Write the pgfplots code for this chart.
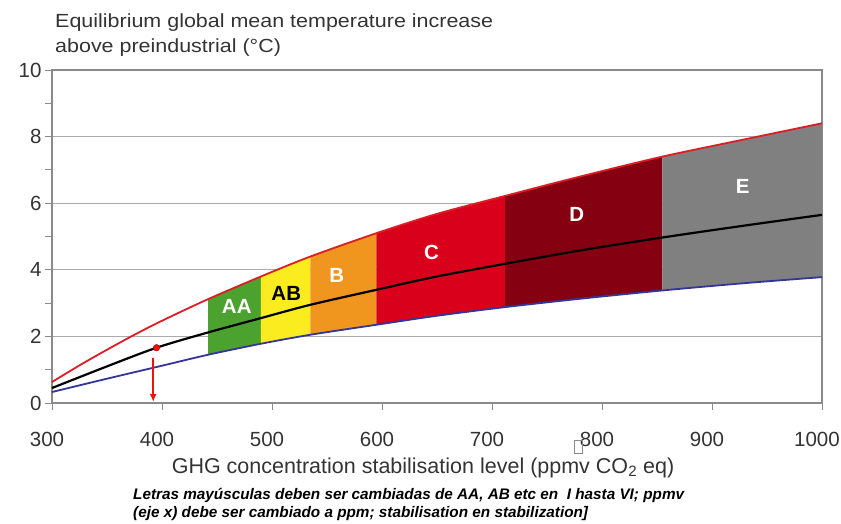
\documentclass[border=0pt]{standalone}
\usepackage{fontspec}
\setmainfont{Liberation Sans}
\usepackage{pgfplots}
\pgfplotsset{compat=1.18}
\usepgfplotslibrary{fillbetween}
\usetikzlibrary{arrows.meta}

\definecolor{axisgray}{HTML}{8A8A8A}
\definecolor{gridgray}{HTML}{ABABAB}
\definecolor{labelgray}{HTML}{333333}
\definecolor{upred}{HTML}{DC1E24}
\definecolor{lowblue}{HTML}{33359A}
\definecolor{arrowred}{HTML}{F01010}
\definecolor{bandAA}{HTML}{4CA22E}
\definecolor{bandAB}{HTML}{FAEC1E}
\definecolor{bandB}{HTML}{F0951E}
\definecolor{bandC}{HTML}{D8001A}
\definecolor{bandD}{HTML}{850010}
\definecolor{bandE}{HTML}{808080}

\begin{document}
\begin{tikzpicture}
\begin{axis}[
    at={(0,0)}, anchor=south west,
    scale only axis, width=770pt, height=333pt,
    xmin=300, xmax=1000, ymin=0, ymax=10,
    xtick={300,400,...,1000},
    ytick={0,2,...,10},
    minor ytick={1,3,...,9},
    xtick pos=bottom, ytick pos=left,
    tick align=outside,
    major tick length=7pt, minor tick length=7pt,
    ymajorgrids,
    grid style={gridgray, line width=1pt},
    axis line style={axisgray, line width=1.2pt},
    tick style={axisgray, line width=1pt},
    ticklabel style={font=\fontsize{20.5}{22}\selectfont, text=labelgray},
    xticklabel style={yshift=-19pt, xshift=-5pt, inner xsep=0pt},
    /pgf/number format/assume math mode=true,
    /pgf/number format/1000 sep={},
    clip=false,
]

% curves (paths for the bands)
\addplot[name path=up, draw=none, smooth] coordinates {
    (300,0.63) (325,1.13) (350,1.60) (375,2.05) (400,2.47) (442,3.12) (490,3.80) (535,4.40)
    (595,5.10) (650,5.68) (712,6.22) (780,6.80) (855,7.40) (930,7.92) (1000,8.40)
};
\addplot[name path=lo, draw=none, smooth] coordinates {
    (300,0.33) (350,0.73) (400,1.12) (442,1.45) (490,1.78) (535,2.05)
    (595,2.35) (650,2.62) (712,2.88) (780,3.13) (855,3.38) (930,3.60) (1000,3.78)
};

\addplot[bandAA] fill between[of=up and lo, soft clip={domain=442:490}];
\addplot[bandAB] fill between[of=up and lo, soft clip={domain=490:535}];
\addplot[bandB]  fill between[of=up and lo, soft clip={domain=535:595}];
\addplot[bandC]  fill between[of=up and lo, soft clip={domain=595:712}];
\addplot[bandD]  fill between[of=up and lo, soft clip={domain=712:855}];
\addplot[bandE]  fill between[of=up and lo, soft clip={domain=855:1000}];

% upper bound
\addplot[upred, line width=1.8pt, smooth] coordinates {
    (300,0.63) (325,1.13) (350,1.60) (375,2.05) (400,2.47) (442,3.12) (490,3.80) (535,4.40)
    (595,5.10) (650,5.68) (712,6.22) (780,6.80) (855,7.40) (930,7.92) (1000,8.40)
};
% lower bound
\addplot[lowblue, line width=1.8pt, smooth] coordinates {
    (300,0.33) (350,0.73) (400,1.12) (442,1.45) (490,1.78) (535,2.05)
    (595,2.35) (650,2.62) (712,2.88) (780,3.13) (855,3.38) (930,3.60) (1000,3.78)
};
% best estimate
\addplot[black, line width=2.2pt, smooth] coordinates {
    (300,0.45) (350,1.10) (395,1.66) (442,2.12) (490,2.55) (535,2.95)
    (595,3.40) (650,3.80) (712,4.18) (780,4.58) (855,4.97) (930,5.33) (1000,5.65)
};

% current level marker
\addplot[arrowred, only marks, mark=*, mark size=3.3pt, mark options={draw=black!30!red, fill=arrowred}] coordinates {(395,1.66)};
\addplot[arrowred, line width=1.6pt, -{Latex[length=8pt, width=7pt]}] coordinates {(392,1.36) (392,0.03)};

% band labels
\node[font=\fontsize{20.5}{22}\selectfont\bfseries, text=white] at (axis cs:468,2.9) {AA};
\node[font=\fontsize{20.5}{22}\selectfont\bfseries, text=black] at (axis cs:513,3.3) {AB};
\node[font=\fontsize{20.5}{22}\selectfont\bfseries, text=white] at (axis cs:559,3.84) {B};
\node[font=\fontsize{20.5}{22}\selectfont\bfseries, text=white] at (axis cs:645,4.53) {C};
\node[font=\fontsize{20.5}{22}\selectfont\bfseries, text=white] at (axis cs:777,5.65) {D};
\node[font=\fontsize{20.5}{22}\selectfont\bfseries, text=white] at (axis cs:928,6.49) {E};
\end{axis}

% title
\node[anchor=base west, inner sep=0pt, text=labelgray, font=\fontsize{19}{22}\selectfont]
    at (3pt,375pt) {\scalebox{1.13}[1]{Equilibrium global mean temperature increase}};
\node[anchor=base west, inner sep=0pt, text=labelgray, font=\fontsize{19}{22}\selectfont]
    at (3pt,350pt) {\scalebox{1.13}[1]{above preindustrial (°C)}};

% x label
\node[anchor=base, inner sep=0pt, text=labelgray, font=\fontsize{21.5}{24}\selectfont]
    at (371pt,-70pt) {GHG concentration stabilisation level (ppmv CO\textsubscript{2} eq)};

% stray glyph box
\draw[axisgray, line width=0.6pt] (522pt,-37pt) rectangle (530pt,-50pt);

% editorial note
\node[anchor=base west, inner sep=0pt, font=\fontsize{15.3}{18}\selectfont\bfseries\itshape]
    at (81pt,-96pt) {Letras mayúsculas deben ser cambiadas de AA, AB etc en \ I hasta VI; ppmv};
\node[anchor=base west, inner sep=0pt, font=\fontsize{15.3}{18}\selectfont\bfseries\itshape]
    at (81pt,-114pt) {(eje x) debe ser cambiado a ppm; stabilisation en stabilization]};

% page frame
\path (-52pt,-120pt) rectangle (789pt,403pt);
\end{tikzpicture}
\end{document}
